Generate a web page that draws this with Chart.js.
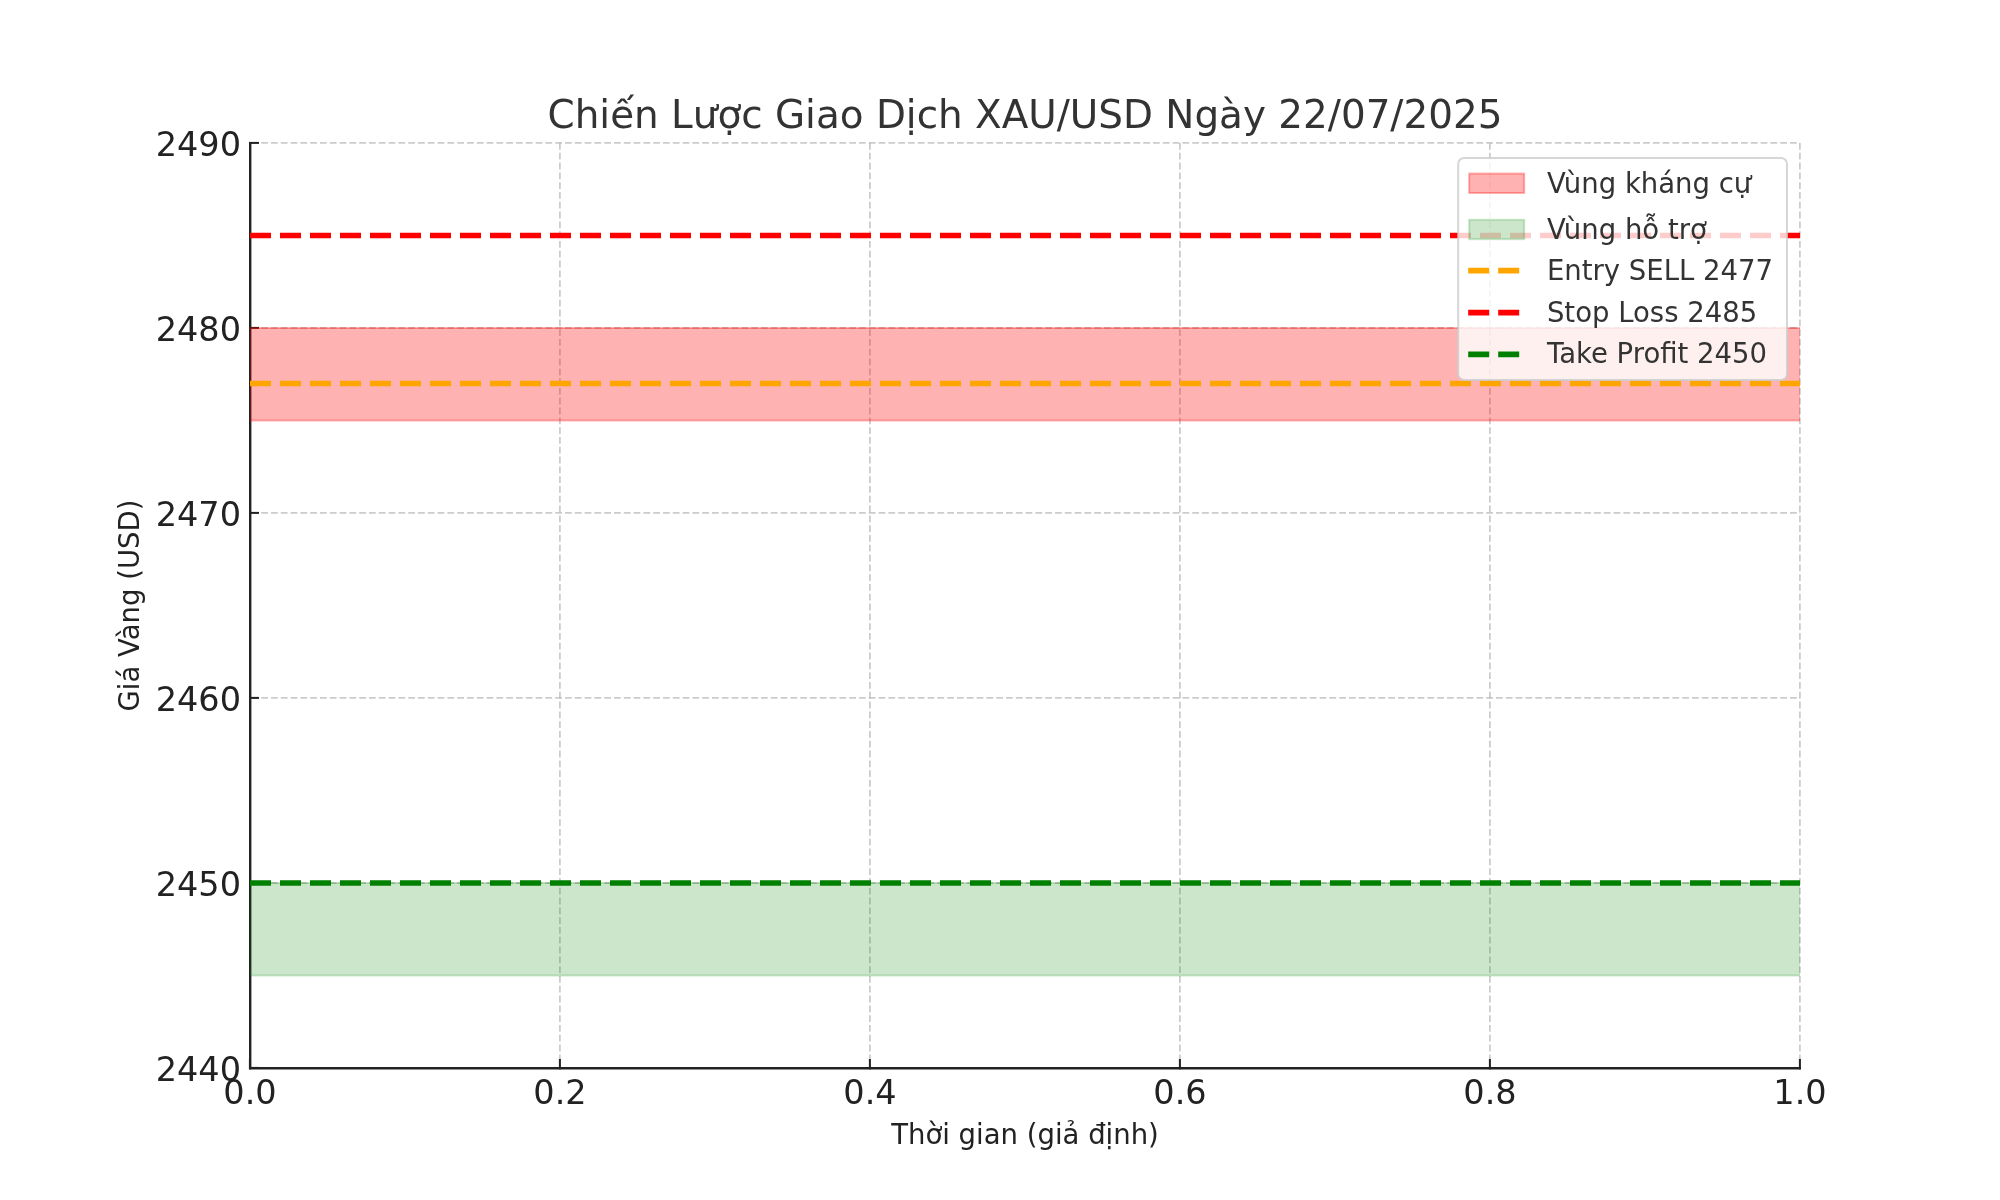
<!DOCTYPE html>
<html lang="vi">
<head>
<meta charset="utf-8">
<title>Chiến Lược Giao Dịch XAU/USD Ngày 22/07/2025</title>
<script src="https://cdn.jsdelivr.net/npm/chart.js@4.4.1/dist/chart.umd.min.js"></script>
<style>
  html, body { margin: 0; padding: 0; background: #fff; }
  #wrap { width: 2000px; height: 1200px; }
</style>
</head>
<body>
<div id="wrap"><canvas id="chart" width="2000" height="1200"></canvas></div>
<script>
// values
const timeRange = [0, 1];
const xTicks = [0, 0.2, 0.4, 0.6, 0.8, 1];
const yTicks = [2440, 2450, 2460, 2470, 2480, 2490];
const resistanceZone = [2475, 2480];
const supportZone = [2445, 2450];
const zoneNames = ['Vùng kháng cự', 'Vùng hỗ trợ'];
const levelNames = ['Entry SELL', 'Stop Loss', 'Take Profit'];
const levelValues = [2477, 2485, 2450];

// styling
const FONT = 'DejaVu Sans';
const levelColors = ['#ffa500', '#ff0000', '#008000'];
const zoneColors = ['rgba(255, 0, 0, 0.3)', 'rgba(0, 128, 0, 0.2)'];
const gridColor = 'rgba(176, 176, 176, 0.65)';
const inkColor = '#222222';

Chart.defaults.font.family = FONT;

// a horizontal level across the whole time range
const flat = v => timeRange.map(x => ({ x, y: v }));

// shaded zone = upper edge filled down to lower edge
function zoneDatasets(name, zone, color) {
    return [
        { label: name, legendKind: 'patch', data: flat(zone[1]), fill: '+1',
          backgroundColor: color, borderColor: color, borderWidth: 2, order: 2 },
        { data: flat(zone[0]), fill: false, borderColor: color, borderWidth: 2, order: 2 },
    ];
}

const levelDatasets = levelNames.map((name, i) => ({
    label: `${name} ${levelValues[i]}`,
    legendKind: 'line',
    data: flat(levelValues[i]),
    borderColor: levelColors[i],
    borderWidth: 5.7,
    borderDash: [21, 9],
    fill: false,
    order: 1,
}));

const datasets = [
    ...zoneDatasets(zoneNames[0], resistanceZone, zoneColors[0]),
    ...zoneDatasets(zoneNames[1], supportZone, zoneColors[1]),
    ...levelDatasets,
];

// matplotlib-like legend box sitting inside the plot, upper right
const insideLegend = {
    id: 'insideLegend',
    afterDraw(chart) {
        const { ctx, chartArea } = chart;
        const items = chart.data.datasets.filter(d => d.label);
        ctx.save();
        ctx.font = `27.5px "${FONT}"`;
        const textW = Math.max(...items.map(d => ctx.measureText(d.label).width));
        const w = 88.7 + textW + 14;
        const h = 222;
        const x = chartArea.right - 13 - w;
        const y = chartArea.top + 15;

        ctx.beginPath();
        if (ctx.roundRect) {
            ctx.roundRect(x, y, w, h, 6);
        } else {
            ctx.rect(x, y, w, h);
        }
        ctx.fillStyle = 'rgba(255, 255, 255, 0.8)';
        ctx.fill();
        ctx.lineWidth = 2;
        ctx.strokeStyle = 'rgba(204, 204, 204, 0.8)';
        ctx.stroke();

        const handleY = [25.3, 71.5, 112.7, 154.7, 196.3];
        const textY = [35.3, 81, 122, 163.7, 204.7];
        items.forEach((d, i) => {
            const cy = y + handleY[i];
            if (d.legendKind === 'patch') {
                ctx.setLineDash([]);
                ctx.fillStyle = d.backgroundColor;
                ctx.fillRect(x + 11, cy - 9.7, 55, 19.4);
                ctx.strokeStyle = d.borderColor;
                ctx.lineWidth = 2;
                ctx.strokeRect(x + 11, cy - 9.7, 55, 19.4);
            } else {
                ctx.setLineDash(d.borderDash);
                ctx.lineWidth = d.borderWidth;
                ctx.strokeStyle = d.borderColor;
                ctx.beginPath();
                ctx.moveTo(x + 10, cy);
                ctx.lineTo(x + 61, cy);
                ctx.stroke();
            }
            ctx.setLineDash([]);
            ctx.fillStyle = '#333333';
            ctx.textAlign = 'left';
            ctx.textBaseline = 'alphabetic';
            ctx.fillText(d.label, x + 88.7, y + textY[i]);
        });
        ctx.restore();
    }
};

const axisGrid = {
    color: gridColor,
    lineWidth: 1.8,
    tickLength: -9,          // ticks point into the plot
    tickColor: inkColor,
    tickWidth: 2,
};
const axisBorder = { color: inkColor, width: 2.4, dash: [6.8, 3] };

new Chart(document.getElementById('chart'), {
    type: 'line',
    data: { datasets },
    options: {
        responsive: false,
        devicePixelRatio: 1,
        animation: false,
        layout: { padding: { top: 0, left: 95, right: 200, bottom: 0 } },
        elements: { point: { radius: 0 }, line: { tension: 0 } },
        plugins: {
            legend: { display: false },
            tooltip: { enabled: false },
            title: {
                display: true,
                text: 'Chiến Lược Giao Dịch XAU/USD Ngày 22/07/2025',
                color: '#333333',
                fullSize: false,
                font: { size: 38.9, weight: 'normal' },
                padding: { top: 94.4, bottom: 1.9 },
            },
        },
        scales: {
            x: {
                type: 'linear',
                min: timeRange[0],
                max: timeRange[1],
                afterBuildTicks: s => { s.ticks = xTicks.map(value => ({ value })); },
                afterFit: s => { s.height = 132; },
                ticks: {
                    callback: v => v.toFixed(1),
                    color: inkColor,
                    font: { size: 33.5 },
                    padding: 16,
                    maxRotation: 0,
                    autoSkip: false,
                },
                grid: axisGrid,
                border: axisBorder,
                title: {
                    display: true,
                    text: 'Thời gian (giả định)',
                    color: inkColor,
                    font: { size: 27.5 },
                    padding: { top: 0, bottom: 46.5 },
                },
            },
            y: {
                type: 'linear',
                min: yTicks[0],
                max: yTicks[yTicks.length - 1],
                afterBuildTicks: s => { s.ticks = yTicks.map(value => ({ value })); },
                afterFit: s => { s.width = 155; },
                ticks: {
                    callback: v => String(v),
                    color: inkColor,
                    font: { size: 33.5 },
                    padding: 18,
                    labelOffset: 4.5,
                    autoSkip: false,
                },
                grid: axisGrid,
                border: axisBorder,
                title: {
                    display: true,
                    text: 'Giá Vàng (USD)',
                    color: inkColor,
                    font: { size: 27.5 },
                    padding: { top: 20.5, bottom: 0 },
                },
            },
        },
    },
    plugins: [insideLegend],
});
</script>
</body>
</html>
